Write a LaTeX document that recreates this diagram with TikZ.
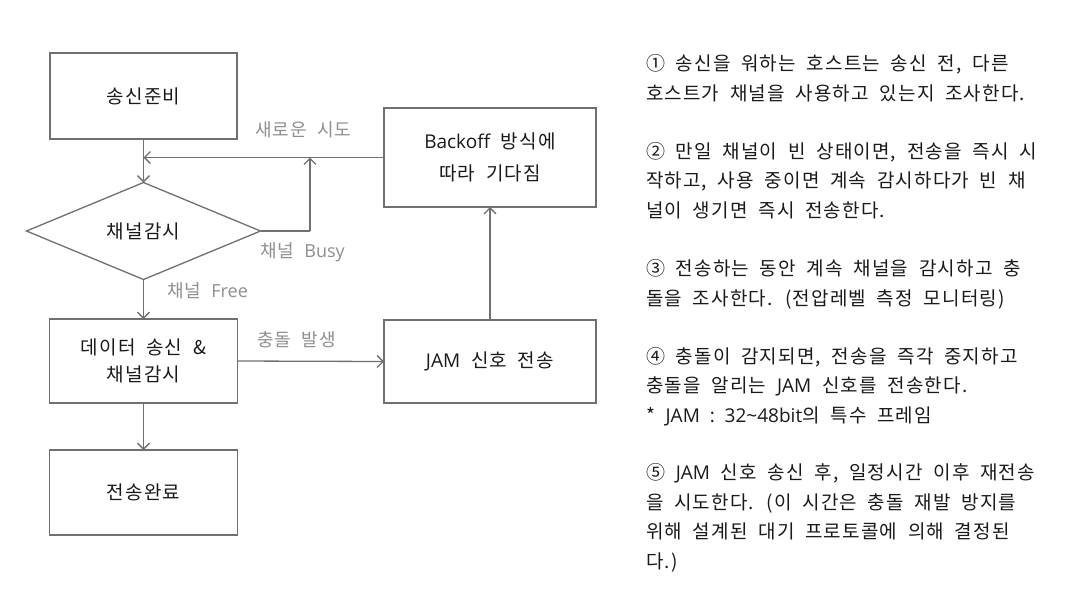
\documentclass[tikz,border=0pt]{standalone}
\usepackage{fontspec}
\setmainfont{Noto Sans CJK KR}[LetterSpace=6,WordSpace=2]
\newfontfamily\lat{Open Sans}[WordSpace=2]
\usetikzlibrary{arrows.meta,shapes.geometric}
\definecolor{linegray}{HTML}{707070}
\definecolor{labelgray}{HTML}{8F8F8F}
\definecolor{textdark}{HTML}{1A1A1A}
\begin{document}
\begin{tikzpicture}[x=1pt,y=-1pt,
  every node/.style={inner sep=0pt, outer sep=0pt},
  flowbox/.style={draw=linegray, line width=1.3pt, fill=white, align=center,
    text=textdark, font=\fontsize{19}{27}\selectfont},
  decision/.style={diamond, aspect=2.4, draw=linegray, line width=1.3pt,
    minimum width=234pt, minimum height=97pt, text=textdark,
    font=\fontsize{19}{27}\selectfont},
  flowlabel/.style={text=labelgray, font=\fontsize{18}{22}\selectfont, anchor=west},
  conn/.style={draw=linegray, line width=1.3pt,
    -{Straight Barb[length=6pt,width=12pt,line width=1.3pt]}},
  plain/.style={draw=linegray, line width=1.3pt},
  para/.style={anchor=base west, align=left, text=textdark,
    font=\fontsize{19}{29.5}\selectfont}
]
\useasboundingbox (0,0) rectangle (1067,595);
\fill[white] (0,0) rectangle (1067,595);

% flowchart nodes
\node[flowbox, minimum width=187pt, minimum height=86pt] (prep) at (143.5,96) {송신준비};
\node[decision] (sense) at (143.5,231) {채널감시};
\node[flowbox, minimum width=188pt, minimum height=84pt] (send) at (143.5,361) {데이터 송신 \&\\채널감시};
\node[flowbox, minimum width=188pt, minimum height=85pt] (done) at (143.5,492.5) {전송완료};
\node[flowbox, minimum width=212pt, minimum height=99pt, font=\fontsize{19}{32}\selectfont] (backoff) at (490,157.5) {{\lat Backoff} 방식에\\따라 기다짐};
\node[flowbox, minimum width=212pt, minimum height=83pt] (jam) at (490,361.5) {{\lat JAM} 신호 전송};

\coordinate (merge) at (prep.south |- backoff.west);
\coordinate (busyc) at (310,231);
\coordinate (busyup) at (310,157.5);

% connectors
\draw[conn] (prep.south) -- (sense.north);
\draw[conn] (backoff.west) -- (merge);
\draw[plain] (sense.east) -- (busyc);
\draw[conn] (busyc) -- (busyup);
\draw[conn] (sense.south) -- (send.north);
\draw[conn] (send.east) -- (jam.west);
\draw[conn] (send.south) -- (done.north);
\draw[conn] (jam.north) -- (backoff.south);

% connector labels
\node[flowlabel] (lretry) at (255,130) {새로운 시도};
\node[flowlabel] (lbusy) at (260,252) {채널 {\lat Busy}};
\node[flowlabel] (lfree) at (167,291) {채널 {\lat Free}};
\node[flowlabel] (lcoll) at (257,340) {충돌 발생};

% explanation text
\node[para] (p1) at (646,100) {① 송신을 워하는 호스트는 송신 전, 다른\\호스트가 채널을 사용하고 있는지 조사한다.};
\node[para] (p2) at (646,217) {② 만일 채널이 빈 상태이면, 전송을 즉시 시\\작하고, 사용 중이면 계속 감시하다가 빈 채\\널이 생기면 즉시 전송한다.};
\node[para] (p3) at (646,305) {③ 전송하는 동안 계속 채널을 감시하고 충\\돌을 조사한다. (전압레벨 측정 모니터링)};
\node[para] (p4) at (646,422) {④ 충돌이 감지되면, 전송을 즉각 중지하고\\충돌을 알리는 {\lat JAM} 신호를 전송한다.\\* {\lat JAM : 32\textasciitilde 48bit}의 특수 프레임};
\node[para] (p5) at (646,568) {⑤ {\lat JAM} 신호 송신 후, 일정시간 이후 재전송\\을 시도한다. (이 시간은 충돌 재발 방지를\\위해 설계된 대기 프로토콜에 의해 결정된\\다.)};
\end{tikzpicture}
\end{document}
